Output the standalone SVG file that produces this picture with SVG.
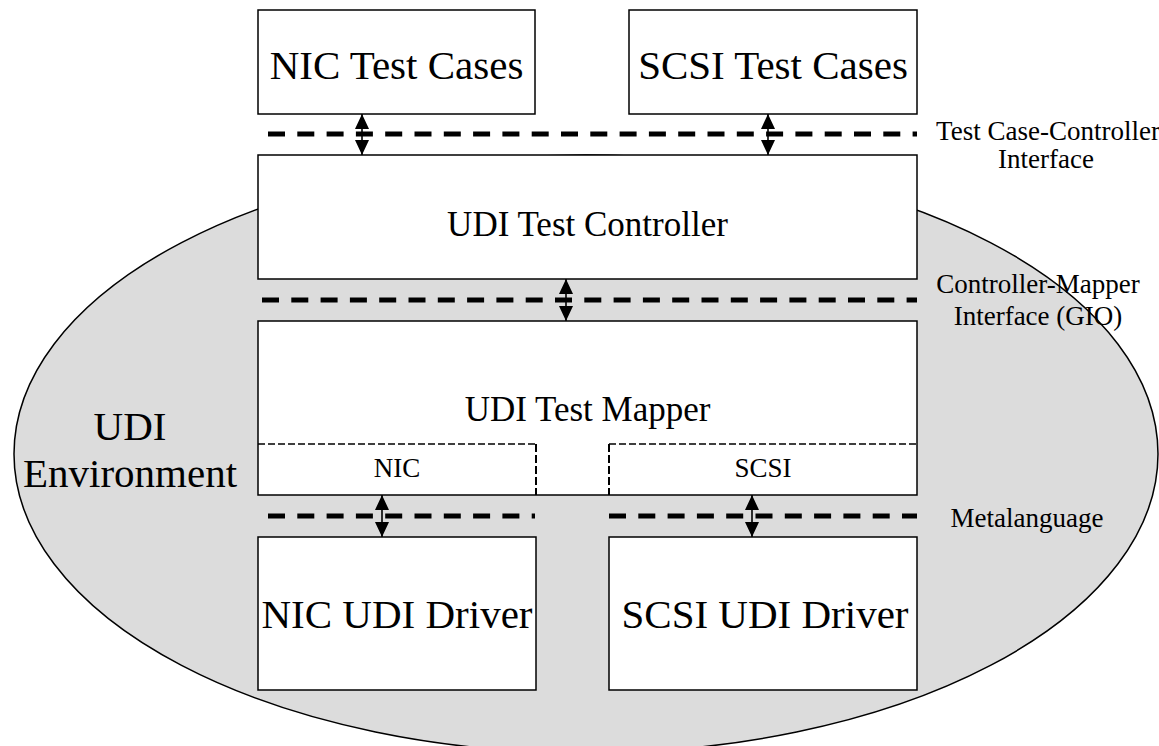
<svg xmlns="http://www.w3.org/2000/svg" width="1159" height="746" viewBox="0 0 1159 746">
<style>
text{font-family:"Liberation Serif","Times New Roman",serif;fill:#000;text-anchor:middle}
.box{fill:#fff;stroke:#000;stroke-width:1.5}
.big{font-size:41px}
.mid{font-size:35px}
.lbl{font-size:27px}
.iface{fill:none;stroke:#000;stroke-width:5;stroke-dasharray:17 12.3}
.sub{fill:none;stroke:#000;stroke-width:1.3;stroke-dasharray:7 3}
.subv{fill:none;stroke:#000;stroke-width:2;stroke-dasharray:8 3}
.arr{stroke:#000;stroke-width:1.6;fill:none;marker-start:url(#ah);marker-end:url(#ah)}
</style>
<defs>
<marker id="ah" viewBox="0 0 15 14" refX="15" refY="7" markerWidth="15" markerHeight="14" markerUnits="userSpaceOnUse" orient="auto-start-reverse">
<path d="M0,0 L15,7 L0,14 Z" fill="#000"/>
</marker>
</defs>
<rect width="1159" height="746" fill="#fff"/>
<g id="udi-environment">
<ellipse cx="586" cy="454" rx="572" ry="299" fill="#dcdcdc" stroke="#000" stroke-width="1.5"/>
<text class="big" x="130" y="440">UDI</text>
<text class="big" x="130" y="487">Environment</text>
</g>
<g id="interfaces">
<line class="iface" x1="268" y1="134" x2="917" y2="134"/>
<text class="lbl" x="1048" y="140">Test Case-Controller</text>
<text class="lbl" x="1046" y="168">Interface</text>
<line class="iface" x1="262" y1="300" x2="917" y2="300"/>
<text class="lbl" x="1038" y="293">Controller-Mapper</text>
<text class="lbl" x="1038" y="325">Interface (GIO)</text>
<line class="iface" x1="268" y1="516" x2="535" y2="516"/>
<line class="iface" x1="609" y1="516" x2="917" y2="516"/>
<text class="lbl" x="1027" y="527">Metalanguage</text>
</g>
<g id="nic-test-cases">
<rect class="box" x="258" y="10" width="277" height="104"/>
<text class="big" x="396.5" y="79">NIC Test Cases</text>
</g>
<g id="scsi-test-cases">
<rect class="box" x="629" y="10" width="288" height="104"/>
<text class="big" x="773" y="79">SCSI Test Cases</text>
</g>
<g id="udi-test-controller">
<rect class="box" x="258" y="155" width="659" height="124"/>
<text class="mid" x="587.5" y="236">UDI Test Controller</text>
</g>
<g id="udi-test-mapper">
<rect class="box" x="258" y="321" width="659" height="174"/>
<text class="mid" x="587.5" y="421">UDI Test Mapper</text>
<polyline class="sub" points="258,444 536,444"/>
<line class="subv" x1="536" y1="444" x2="536" y2="495"/>
<polyline class="sub" points="609,444 917,444"/>
<line class="subv" x1="609" y1="444" x2="609" y2="495"/>
<text class="lbl" x="397" y="477">NIC</text>
<text class="lbl" x="763" y="477">SCSI</text>
</g>
<g id="nic-udi-driver">
<rect class="box" x="258" y="537" width="278" height="153"/>
<text class="big" x="397" y="628">NIC UDI Driver</text>
</g>
<g id="scsi-udi-driver">
<rect class="box" x="609" y="537" width="308" height="153"/>
<text class="big" x="765" y="628">SCSI UDI Driver</text>
</g>
<g id="connectors">
<line class="arr" x1="362" y1="114" x2="362" y2="155"/>
<line class="arr" x1="768" y1="114" x2="768" y2="155"/>
<line class="arr" x1="566" y1="279" x2="566" y2="321"/>
<line class="arr" x1="382" y1="495" x2="382" y2="537"/>
<line class="arr" x1="752" y1="495" x2="752" y2="537"/>
</g>
</svg>
